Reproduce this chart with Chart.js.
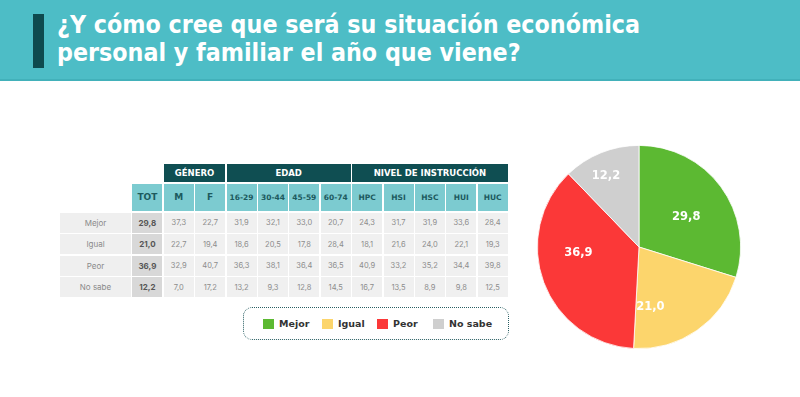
<!DOCTYPE html>
<html lang="es">
<head>
<meta charset="utf-8">
<script src="https://cdn.jsdelivr.net/npm/chart.js@4.4.1/dist/chart.umd.min.js"></script>
<style>
  html, body { margin: 0; padding: 0; background: #fff; width: 800px; height: 397px; overflow: hidden; }
  #header { position: absolute; left: 0; top: 0; width: 800px; height: 79px; background: #4dbdc6; border-bottom: 2px solid #42b1ba; }
  #header .barra { position: absolute; left: 33px; top: 14px; width: 11px; height: 54px; background: #0e4a4e; }
  #titulo { position: absolute; left: 57px; top: 11px; color: #fff; font-family: "Liberation Sans Narrow", "DejaVu Sans Condensed", sans-serif; font-weight: bold; font-size: 25px; line-height: 28px; white-space: nowrap; }
  #titulo span { display: block; height: 28px; transform-origin: left center; }
  #tabla { position: absolute; left: 60px; top: 164px; display: grid; grid-template-columns: 71px repeat(12, 30px); grid-template-rows: 18px 27.5px repeat(4, 20px); column-gap: 1.4px; row-gap: 1.5px; font-family: Inter, sans-serif; }
  #tabla div { display: flex; align-items: center; justify-content: center; white-space: nowrap; }
  .grupo { background: #0f4e52; color: #fff; font-family: "DejaVu Sans", sans-serif; font-weight: bold; font-size: 8.5px; }
  .sub { background: #7ccbd0; color: #1d5a5e; font-family: "DejaVu Sans", sans-serif; font-weight: bold; font-size: 7.5px; }
  .sub.grande { font-size: 9px; }
  .fila { background: #efefef; color: #8a8a8a; font-size: 8px; }
  .dato { background: #f0f0f0; color: #8c8c8c; font-size: 7.5px; }
  .tot { background: #d8d8d8; color: #555; font-weight: bold; font-size: 8px; }
  #leyenda { position: absolute; left: 243px; top: 307px; width: 264px; height: 31px; border: 1.5px dotted #2a5f63; border-radius: 9px; font-family: "DejaVu Sans", sans-serif; font-weight: bold; font-size: 9.5px; color: #333; }
  #leyenda .item { position: absolute; top: 10px; display: flex; align-items: center; }
  #leyenda .cuadro { width: 11px; height: 10px; margin-right: 5px; }
  #pieBox { position: absolute; left: 534px; top: 142px; width: 210px; height: 210px; }
</style>
</head>
<body>
<div id="header">
  <div class="barra"></div>
  <div id="titulo"><span>¿Y cómo cree que será su situación económica</span><span>personal y familiar el año que viene?</span></div>
</div>
<div id="tabla"></div>
<div id="leyenda"></div>
<div id="pieBox"><canvas id="graficoPie"></canvas></div>

<script>
// Datos
const categorias = ['Mejor', 'Igual', 'Peor', 'No sabe'];
const totales = [29.8, 21.0, 36.9, 12.2];
const grupos = ['GÉNERO', 'EDAD', 'NIVEL DE INSTRUCCIÓN'];
const columnasGenero = ['M', 'F'];
const columnasEdad = ['16-29', '30-44', '45-59', '60-74'];
const columnasNivel = ['HPC', 'HSI', 'HSC', 'HUI', 'HUC'];
const mejor  = [37.3, 22.7, 31.9, 32.1, 33.0, 20.7, 24.3, 31.7, 31.9, 33.6, 28.4];
const igual  = [22.7, 19.4, 18.6, 20.5, 17.8, 28.4, 18.1, 21.6, 24.0, 22.1, 19.3];
const peor   = [32.9, 40.7, 36.3, 38.1, 36.4, 36.5, 40.9, 33.2, 35.2, 34.4, 39.8];
const noSabe = [7.0, 17.2, 13.2, 9.3, 12.8, 14.5, 16.7, 13.5, 8.9, 9.8, 12.5];
const colores = ['#5cb932', '#fcd56c', '#fb3838', '#cfcfcf'];

const fmt = v => v.toFixed(1).replace('.', ',');

// Título: ajustar ancho de la primera línea
const spans = document.querySelectorAll('#titulo span');
const medida = document.createElement('canvas').getContext('2d');
medida.font = getComputedStyle(spans[0]).font;
const escala = 583 / medida.measureText(spans[0].textContent).width;
spans.forEach(s => s.style.transform = `scaleX(${escala})`);

// Tabla
function celda(clase, texto, estilo) {
  return `<div class="${clase}"${estilo ? ` style="${estilo}"` : ''}>${texto}</div>`;
}

function renderTabla() {
  const filas = [mejor, igual, peor, noSabe];
  let html = '';
  // fila de grupos
  const spansGrupos = [columnasGenero.length, columnasEdad.length, columnasNivel.length];
  let inicio = 3;
  grupos.forEach((g, i) => {
    html += celda('grupo', g, `grid-row:1;grid-column:${inicio} / span ${spansGrupos[i]}`);
    inicio += spansGrupos[i];
  });
  // subencabezados
  html += celda('sub grande', 'TOT', 'grid-row:2;grid-column:2');
  columnasGenero.forEach((c, i) => html += celda('sub grande', c, `grid-row:2;grid-column:${3 + i}`));
  [...columnasEdad, ...columnasNivel].forEach((c, i) => html += celda('sub', c, `grid-row:2;grid-column:${5 + i}`));
  // datos
  categorias.forEach((cat, r) => {
    html += celda('fila', cat, `grid-row:${3 + r};grid-column:1`);
    html += celda('tot', fmt(totales[r]), `grid-row:${3 + r};grid-column:2`);
    filas[r].forEach((v, c) => html += celda('dato', fmt(v), `grid-row:${3 + r};grid-column:${3 + c}`));
  });
  document.getElementById('tabla').innerHTML = html;
}

// Leyenda
function renderLeyenda() {
  const posiciones = [19, 78, 133, 189];
  document.getElementById('leyenda').innerHTML = categorias.map((c, i) => `
    <div class="item" style="left:${posiciones[i]}px">
      <div class="cuadro" style="background:${colores[i]}"></div>${c}
    </div>`).join('');
}

// Etiquetas del pie
const etiquetasPie = {
  id: 'etiquetasPie',
  afterDatasetsDraw(chart, args, opts) {
    const ctx = chart.ctx;
    chart.getDatasetMeta(0).data.forEach((arc, i) => {
      const p = arc.getProps(['x', 'y', 'startAngle', 'endAngle', 'outerRadius'], true);
      const ang = (p.startAngle + p.endAngle) / 2 + opts.giro[i] * Math.PI / 180;
      const r = p.outerRadius * opts.radio[i];
      ctx.save();
      ctx.fillStyle = '#fff';
      ctx.font = 'bold 11.5px "DejaVu Sans"';
      ctx.textAlign = 'center';
      ctx.textBaseline = 'middle';
      ctx.fillText(fmt(chart.data.datasets[0].data[i]), p.x + Math.cos(ang) * r, p.y + Math.sin(ang) * r);
      ctx.restore();
    });
  }
};

function renderPie() {
  const ctx = document.getElementById('graficoPie').getContext('2d');
  new Chart(ctx, {
    type: 'pie',
    data: {
      labels: categorias,
      datasets: [{
        data: totales,
        backgroundColor: colores,
        borderColor: '#fff',
        borderWidth: 0.8
      }]
    },
    options: {
      responsive: true,
      maintainAspectRatio: false,
      animation: false,
      layout: { padding: 3 },
      plugins: {
        legend: { display: false },
        tooltip: { enabled: false },
        etiquetasPie: { giro: [4, 24, 15, -3], radio: [0.55, 0.6, 0.6, 0.77] }
      }
    },
    plugins: [etiquetasPie]
  });
}

window.addEventListener('load', () => {
  renderTabla();
  renderLeyenda();
  renderPie();
});
</script>
</body>
</html>
